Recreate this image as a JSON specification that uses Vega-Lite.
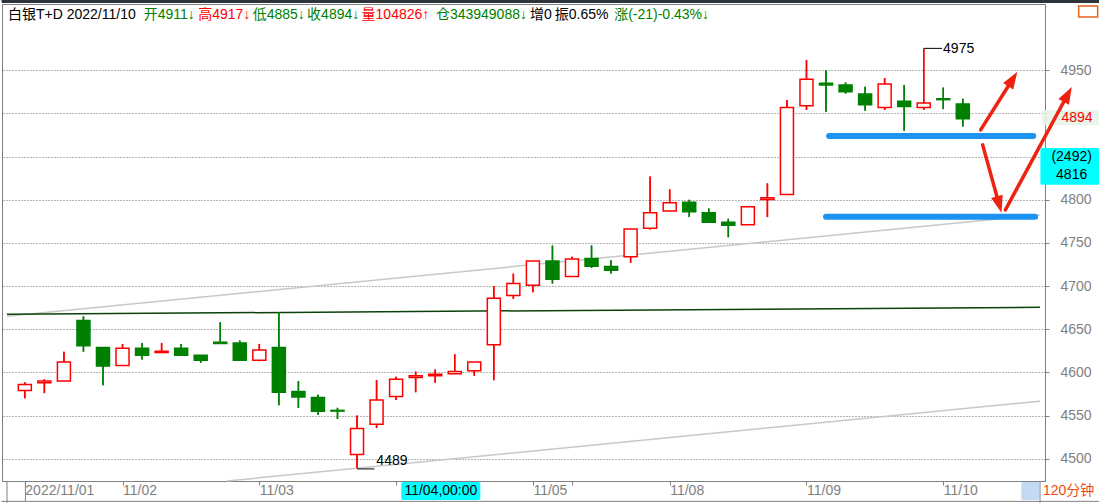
{
  "$schema": "https://vega.github.io/schema/vega-lite/v6.json",
  "width": 1043,
  "height": 477,
  "autosize": {"type": "none"},
  "padding": {"left": 2, "top": 4, "right": 54, "bottom": 22},
  "background": "#ffffff",
  "config": {"view": {"stroke": "#808080", "strokeWidth": 1}, "font": "Liberation Sans, Noto Sans CJK SC"},
  "resolve": {"axis": {"x": "independent", "y": "independent"}},
  "datasets": {
    "candles": [
      {"i": 0, "o": 4579, "h": 4588.5, "l": 4570, "c": 4586},
      {"i": 1, "o": 4588, "h": 4592, "l": 4576, "c": 4590},
      {"i": 2, "o": 4590, "h": 4624, "l": 4590, "c": 4612},
      {"i": 3, "o": 4660, "h": 4665, "l": 4624, "c": 4631},
      {"i": 4, "o": 4629, "h": 4629, "l": 4585, "c": 4607.5},
      {"i": 5, "o": 4608, "h": 4633, "l": 4608, "c": 4628},
      {"i": 6, "o": 4628, "h": 4634, "l": 4615, "c": 4620},
      {"i": 7, "o": 4623, "h": 4634, "l": 4623, "c": 4624.5},
      {"i": 8, "o": 4628, "h": 4633, "l": 4619, "c": 4620},
      {"i": 9, "o": 4620, "h": 4620, "l": 4611, "c": 4614},
      {"i": 10, "o": 4635, "h": 4658, "l": 4633, "c": 4633.5},
      {"i": 11, "o": 4634, "h": 4637, "l": 4614, "c": 4614.2},
      {"i": 12, "o": 4614, "h": 4633, "l": 4613, "c": 4626},
      {"i": 13, "o": 4629, "h": 4670, "l": 4562, "c": 4577},
      {"i": 14, "o": 4578, "h": 4590, "l": 4559, "c": 4571.5},
      {"i": 15, "o": 4571, "h": 4574, "l": 4551, "c": 4555},
      {"i": 16, "o": 4556, "h": 4559, "l": 4546, "c": 4555.2},
      {"i": 17, "o": 4505, "h": 4550, "l": 4489, "c": 4535},
      {"i": 18, "o": 4540, "h": 4591, "l": 4535.5, "c": 4568},
      {"i": 19, "o": 4572, "h": 4595, "l": 4568, "c": 4592},
      {"i": 20, "o": 4594, "h": 4601, "l": 4577, "c": 4596},
      {"i": 21, "o": 4596, "h": 4603.5, "l": 4588, "c": 4598},
      {"i": 22, "o": 4598.5, "h": 4621, "l": 4598.5, "c": 4601},
      {"i": 23, "o": 4602, "h": 4612, "l": 4596, "c": 4612},
      {"i": 24, "o": 4632, "h": 4700, "l": 4591, "c": 4686},
      {"i": 25, "o": 4689, "h": 4714.5, "l": 4685, "c": 4703},
      {"i": 26, "o": 4701, "h": 4729, "l": 4693, "c": 4729},
      {"i": 27, "o": 4729, "h": 4747, "l": 4703, "c": 4708},
      {"i": 28, "o": 4711, "h": 4734, "l": 4711, "c": 4731.5},
      {"i": 29, "o": 4732, "h": 4747, "l": 4721, "c": 4723},
      {"i": 30, "o": 4722.6, "h": 4730, "l": 4714.5, "c": 4718.4},
      {"i": 31, "o": 4734, "h": 4766, "l": 4727, "c": 4766},
      {"i": 32, "o": 4767, "h": 4827, "l": 4765.5, "c": 4785},
      {"i": 33, "o": 4787, "h": 4812, "l": 4787, "c": 4796.5},
      {"i": 34, "o": 4797, "h": 4800, "l": 4780, "c": 4786},
      {"i": 35, "o": 4785, "h": 4790, "l": 4773, "c": 4774},
      {"i": 36, "o": 4774, "h": 4778, "l": 4756.6, "c": 4770.5},
      {"i": 37, "o": 4771, "h": 4792, "l": 4771, "c": 4792},
      {"i": 38, "o": 4800.4, "h": 4819, "l": 4780, "c": 4802.3},
      {"i": 39, "o": 4806, "h": 4915.5, "l": 4806, "c": 4907},
      {"i": 40, "o": 4909, "h": 4962, "l": 4904, "c": 4939.5},
      {"i": 41, "o": 4935, "h": 4950, "l": 4902, "c": 4933},
      {"i": 42, "o": 4933, "h": 4936, "l": 4923, "c": 4925},
      {"i": 43, "o": 4922.5, "h": 4931, "l": 4903, "c": 4910},
      {"i": 44, "o": 4907, "h": 4941, "l": 4904, "c": 4934},
      {"i": 45, "o": 4914, "h": 4933, "l": 4880, "c": 4908},
      {"i": 46, "o": 4907, "h": 4975, "l": 4904, "c": 4912},
      {"i": 47, "o": 4917, "h": 4930, "l": 4905, "c": 4916},
      {"i": 48, "o": 4911, "h": 4917, "l": 4885, "c": 4894}
    ],
    "trend": [
      {"line": "support", "i": -0.912, "v": 4667.3},
      {"line": "support", "i": 51.95, "v": 4675.5},
      {"line": "upper", "i": -0.912, "v": 4665.0},
      {"line": "upper", "i": 51.95, "v": 4782.5},
      {"line": "lower", "i": 10.34, "v": 4474.2},
      {"line": "lower", "i": 51.95, "v": 4566.7}
    ],
    "levels": [
      {"level": "a", "i": 41.16, "v": 4874},
      {"level": "a", "i": 51.6, "v": 4874},
      {"level": "b", "i": 41.0, "v": 4780.2},
      {"level": "b", "i": 51.7, "v": 4780.2}
    ],
    "arrows": [
      {"arrow": 1, "i": 48.913, "v": 4880.9},
      {"arrow": 1, "i": 50.515, "v": 4938.4},
      {"arrow": 2, "i": 49.014, "v": 4863.6},
      {"arrow": 2, "i": 49.841, "v": 4796.0},
      {"arrow": 3, "i": 50.18, "v": 4788.3},
      {"arrow": 3, "i": 53.333, "v": 4920.5}
    ],
    "heads": [
      {"arrow": 1, "i": 50.515, "v": 4938.4},
      {"arrow": 2, "i": 49.841, "v": 4796.0},
      {"arrow": 3, "i": 53.333, "v": 4920.5}
    ],
    "strokes": [
      {"kind": "frame", "i": -0.912, "i2": -0.912, "v": 4474.2, "v2": 4449},
      {"kind": "frame", "i": 51.95, "i2": 51.95, "v": 4474.2, "v2": 4449},
      {"kind": "frame", "i": -1.2, "i2": 55, "v": 4450.6, "v2": 4450.6},
      {"kind": "frame", "i": 0.03, "i2": 0.03, "v": 4474.2, "v2": 4450.6},
      {"kind": "leader", "i": 46, "i2": 46.94, "v": 4975.4, "v2": 4975.4},
      {"kind": "leader", "i": 17, "i2": 17.89, "v": 4488.2, "v2": 4488.2}
    ],
    "boxes": [
      {"kind": "topbar", "i": -1.2, "i2": 55.5, "v": 5027.9, "v2": 5032},
      {"kind": "crosstime", "i": 19.26, "i2": 23.31, "v": 4473.1, "v2": 4452.3},
      {"kind": "crossprice", "i": 51.97, "i2": 55, "v": 4860.1, "v2": 4817.3},
      {"kind": "last", "i": 52.06, "i2": 55, "v": 4904.1, "v2": 4886.2},
      {"kind": "corner", "i": 50.99, "i2": 51.9, "v": 4473.1, "v2": 4452.3}
    ],
    "outline": [
      {"i": 53.93, "i2": 54.9, "v": 5024.5, "v2": 5011.7}
    ],
    "notesLeft": [
      {"i": -0.861, "v": 5014.6, "text": "白银T+D 2022/11/10", "tone": "neutral"},
      {"i": 6.083, "v": 5014.6, "text": "开4911↓", "tone": "fall"},
      {"i": 8.87, "v": 5014.6, "text": "高4917↓", "tone": "rise"},
      {"i": 11.658, "v": 5014.6, "text": "低4885↓", "tone": "fall"},
      {"i": 14.446, "v": 5014.6, "text": "收4894↓", "tone": "fall"},
      {"i": 17.233, "v": 5014.6, "text": "量104826↑", "tone": "rise"},
      {"i": 21.035, "v": 5014.6, "text": "仓343949088↓", "tone": "fall"},
      {"i": 25.85, "v": 5014.6, "text": "增0", "tone": "neutral"},
      {"i": 27.117, "v": 5014.6, "text": "振0.65%", "tone": "neutral"},
      {"i": 30.158, "v": 5014.6, "text": "涨(-21)-0.43%↓", "tone": "fall"},
      {"i": 46.99, "v": 4975, "text": "4975", "tone": "neutral"},
      {"i": 17.99, "v": 4497.5, "text": "4489", "tone": "neutral"},
      {"i": 52.1, "v": 4463, "text": "120分钟", "tone": "period"}
    ],
    "notesCenter": [
      {"i": 21.29, "v": 4463, "text": "11/04,00:00"},
      {"i": 53.57, "v": 4849.7, "text": "(2492)"},
      {"i": 53.57, "v": 4828.8, "text": "4816"}
    ],
    "notesRight": [
      {"i": 54.64, "v": 4894.2, "text": "4894"}
    ]
  },
  "layer": [
    {
      "data": {"name": "candles"},
      "mark": {"type": "rule", "strokeWidth": 1.5},
      "encoding": {
        "x": {"field": "i", "type": "quantitative", "scale": {"domain": [-0.912, 51.95], "nice": false, "zero": false},
          "axis": {"orient": "bottom", "values": [0, 5, 12, 19, 26, 28, 33, 40, 47],
            "labelExpr": "datum.value==0?'2022/11/01':datum.value==5?'11/02':datum.value==12?'11/03':datum.value==26?'11/05':datum.value==33?'11/08':datum.value==40?'11/09':datum.value==47?'11/10':''",
            "labelAlign": "left", "labelDx": 2, "labelFontSize": 14, "labelColor": "#7f7f7f", "labelFont": "Liberation Sans",
            "tickColor": "#808080", "tickSize": 4, "domainColor": "#808080", "labelPadding": -2, "title": null, "grid": false,
            "labelOverlap": false, "labelBound": false, "labelFlush": false}},
        "y": {"field": "l", "type": "quantitative", "scale": {"domain": [4474.2, 5026.8], "nice": false, "zero": false},
          "axis": {"orient": "right", "values": [4500, 4550, 4600, 4650, 4700, 4750, 4800, 4850, 4900, 4950],
            "format": "d",
            "labelExpr": "datum.value==4850||datum.value==4900?'':datum.label",
            "grid": true, "gridDash": [1, 2], "gridColor": "#6a6a6a", "gridWidth": 1,
            "tickColor": "#808080", "tickSize": 4, "labelPadding": 11, "labelFontSize": 14, "labelColor": "#7f7f7f",
            "labelFont": "Liberation Sans", "domainColor": "#808080", "title": null, "labelOverlap": false, "labelFlush": false}},
        "y2": {"field": "h"},
        "color": {"condition": {"test": "datum.c >= datum.o", "value": "#ff0000"}, "value": "#008000"}
      }
    },
    {
      "data": {"name": "trend"},
      "transform": [{"filter": "datum.line != 'support'"}],
      "mark": {"type": "line", "color": "#c8c8c8", "strokeWidth": 1.5},
      "encoding": {
        "detail": {"field": "line"},
        "x": {"field": "i", "type": "quantitative", "scale": {"domain": [-0.912, 51.95], "nice": false, "zero": false}, "axis": null},
        "y": {"field": "v", "type": "quantitative", "scale": {"domain": [4474.2, 5026.8], "nice": false, "zero": false}, "axis": null}
      }
    },
    {
      "data": {"name": "trend"},
      "transform": [{"filter": "datum.line == 'support'"}],
      "mark": {"type": "line", "color": "#0a420a", "strokeWidth": 1.5},
      "encoding": {
        "x": {"field": "i", "type": "quantitative", "scale": {"domain": [-0.912, 51.95], "nice": false, "zero": false}, "axis": null},
        "y": {"field": "v", "type": "quantitative", "scale": {"domain": [4474.2, 5026.8], "nice": false, "zero": false}, "axis": null}
      }
    },
    {
      "data": {"name": "candles"},
      "mark": {"type": "rule", "strokeWidth": 1.5},
      "encoding": {
        "x": {"field": "i", "type": "quantitative", "scale": {"domain": [-0.912, 51.95], "nice": false, "zero": false}, "axis": null},
        "y": {"field": "l", "type": "quantitative", "scale": {"domain": [4474.2, 5026.8], "nice": false, "zero": false}, "axis": null},
        "y2": {"field": "h"},
        "color": {"condition": {"test": "datum.c >= datum.o", "value": "#ff0000"}, "value": "#008000"}
      }
    },
    {
      "data": {"name": "candles"},
      "mark": {"type": "bar", "size": 13, "strokeWidth": 1.5},
      "encoding": {
        "x": {"field": "i", "type": "quantitative", "scale": {"domain": [-0.912, 51.95], "nice": false, "zero": false}, "axis": null},
        "y": {"field": "o", "type": "quantitative", "scale": {"domain": [4474.2, 5026.8], "nice": false, "zero": false}, "axis": null},
        "y2": {"field": "c"},
        "fill": {"condition": {"test": "datum.c >= datum.o", "value": "#ffffff"}, "value": "#008000"},
        "stroke": {"condition": {"test": "datum.c >= datum.o", "value": "#ff0000"}, "value": "#008000"}
      }
    },
    {
      "data": {"name": "levels"},
      "mark": {"type": "line", "color": "#1c93f0", "strokeWidth": 6, "strokeCap": "round"},
      "encoding": {
        "detail": {"field": "level"},
        "x": {"field": "i", "type": "quantitative", "scale": {"domain": [-0.912, 51.95], "nice": false, "zero": false}, "axis": null},
        "y": {"field": "v", "type": "quantitative", "scale": {"domain": [4474.2, 5026.8], "nice": false, "zero": false}, "axis": null}
      }
    },
    {
      "data": {"name": "boxes"},
      "mark": {"type": "rect", "cornerRadius": 2},
      "encoding": {
        "x": {"field": "i", "type": "quantitative", "scale": {"domain": [-0.912, 51.95], "nice": false, "zero": false}, "axis": null},
        "x2": {"field": "i2"},
        "y": {"field": "v", "type": "quantitative", "scale": {"domain": [4474.2, 5026.8], "nice": false, "zero": false}, "axis": null},
        "y2": {"field": "v2"},
        "fill": {"condition": [
          {"test": "datum.kind == 'topbar'", "value": "#2f333a"},
          {"test": "datum.kind == 'crosstime'", "value": "#00ffff"},
          {"test": "datum.kind == 'crossprice'", "value": "#00ffff"},
          {"test": "datum.kind == 'last'", "value": "#e8f4e8"},
          {"test": "datum.kind == 'corner'", "value": "#c4daf3"}
        ], "value": "#ffffff"},
        "opacity": {"condition": {"test": "datum.kind == 'last'", "value": 0.9}, "value": 1}
      }
    },
    {
      "data": {"name": "outline"},
      "mark": {"type": "rect", "fill": null, "stroke": "#e8601c", "strokeWidth": 1.5},
      "encoding": {
        "x": {"field": "i", "type": "quantitative", "scale": {"domain": [-0.912, 51.95], "nice": false, "zero": false}, "axis": null},
        "x2": {"field": "i2"},
        "y": {"field": "v", "type": "quantitative", "scale": {"domain": [4474.2, 5026.8], "nice": false, "zero": false}, "axis": null},
        "y2": {"field": "v2"}
      }
    },
    {
      "data": {"name": "strokes"},
      "mark": {"type": "rule", "strokeWidth": 1},
      "encoding": {
        "x": {"field": "i", "type": "quantitative", "scale": {"domain": [-0.912, 51.95], "nice": false, "zero": false}, "axis": null},
        "x2": {"field": "i2"},
        "y": {"field": "v", "type": "quantitative", "scale": {"domain": [4474.2, 5026.8], "nice": false, "zero": false}, "axis": null},
        "y2": {"field": "v2"},
        "color": {"condition": {"test": "datum.kind == 'leader'", "value": "#000000"}, "value": "#808080"}
      }
    },
    {
      "data": {"name": "arrows"},
      "mark": {"type": "line", "color": "#ee2211", "strokeWidth": 3.5, "strokeCap": "round"},
      "encoding": {
        "detail": {"field": "arrow"},
        "x": {"field": "i", "type": "quantitative", "scale": {"domain": [-0.912, 51.95], "nice": false, "zero": false}, "axis": null},
        "y": {"field": "v", "type": "quantitative", "scale": {"domain": [4474.2, 5026.8], "nice": false, "zero": false}, "axis": null}
      }
    },
    {
      "data": {"name": "heads"},
      "transform": [{"filter": "datum.arrow == 1"}],
      "mark": {"type": "point", "shape": "M0,-1L0.6,0.7L-0.6,0.7Z", "size": 400, "filled": true, "color": "#ee2211", "opacity": 1, "angle": 32.5},
      "encoding": {
        "x": {"field": "i", "type": "quantitative", "scale": {"domain": [-0.912, 51.95], "nice": false, "zero": false}, "axis": null},
        "y": {"field": "v", "type": "quantitative", "scale": {"domain": [4474.2, 5026.8], "nice": false, "zero": false}, "axis": null}
      }
    },
    {
      "data": {"name": "heads"},
      "transform": [{"filter": "datum.arrow == 2"}],
      "mark": {"type": "point", "shape": "M0,-1L0.6,0.7L-0.6,0.7Z", "size": 400, "filled": true, "color": "#ee2211", "opacity": 1, "angle": 164.4},
      "encoding": {
        "x": {"field": "i", "type": "quantitative", "scale": {"domain": [-0.912, 51.95], "nice": false, "zero": false}, "axis": null},
        "y": {"field": "v", "type": "quantitative", "scale": {"domain": [4474.2, 5026.8], "nice": false, "zero": false}, "axis": null}
      }
    },
    {
      "data": {"name": "heads"},
      "transform": [{"filter": "datum.arrow == 3"}],
      "mark": {"type": "point", "shape": "M0,-1L0.6,0.7L-0.6,0.7Z", "size": 400, "filled": true, "color": "#ee2211", "opacity": 1, "angle": 28.6},
      "encoding": {
        "x": {"field": "i", "type": "quantitative", "scale": {"domain": [-0.912, 51.95], "nice": false, "zero": false}, "axis": null},
        "y": {"field": "v", "type": "quantitative", "scale": {"domain": [4474.2, 5026.8], "nice": false, "zero": false}, "axis": null}
      }
    },
    {
      "data": {"name": "notesLeft"},
      "mark": {"type": "text", "align": "left", "baseline": "middle", "fontSize": 14, "font": "Liberation Sans, Noto Sans CJK SC"},
      "encoding": {
        "x": {"field": "i", "type": "quantitative", "scale": {"domain": [-0.912, 51.95], "nice": false, "zero": false}, "axis": null},
        "y": {"field": "v", "type": "quantitative", "scale": {"domain": [4474.2, 5026.8], "nice": false, "zero": false}, "axis": null},
        "text": {"field": "text"},
        "color": {"condition": [
          {"test": "datum.tone == 'rise'", "value": "#ff0000"},
          {"test": "datum.tone == 'fall'", "value": "#008000"},
          {"test": "datum.tone == 'period'", "value": "#ee4a12"}
        ], "value": "#000000"}
      }
    },
    {
      "data": {"name": "notesCenter"},
      "mark": {"type": "text", "align": "center", "baseline": "middle", "fontSize": 14, "color": "#000000", "font": "Liberation Sans, Noto Sans CJK SC"},
      "encoding": {
        "x": {"field": "i", "type": "quantitative", "scale": {"domain": [-0.912, 51.95], "nice": false, "zero": false}, "axis": null},
        "y": {"field": "v", "type": "quantitative", "scale": {"domain": [4474.2, 5026.8], "nice": false, "zero": false}, "axis": null},
        "text": {"field": "text"}
      }
    },
    {
      "data": {"name": "notesRight"},
      "mark": {"type": "text", "align": "right", "baseline": "middle", "fontSize": 14, "color": "#ff0000", "font": "Liberation Sans, Noto Sans CJK SC"},
      "encoding": {
        "x": {"field": "i", "type": "quantitative", "scale": {"domain": [-0.912, 51.95], "nice": false, "zero": false}, "axis": null},
        "y": {"field": "v", "type": "quantitative", "scale": {"domain": [4474.2, 5026.8], "nice": false, "zero": false}, "axis": null},
        "text": {"field": "text"}
      }
    }
  ]
}
